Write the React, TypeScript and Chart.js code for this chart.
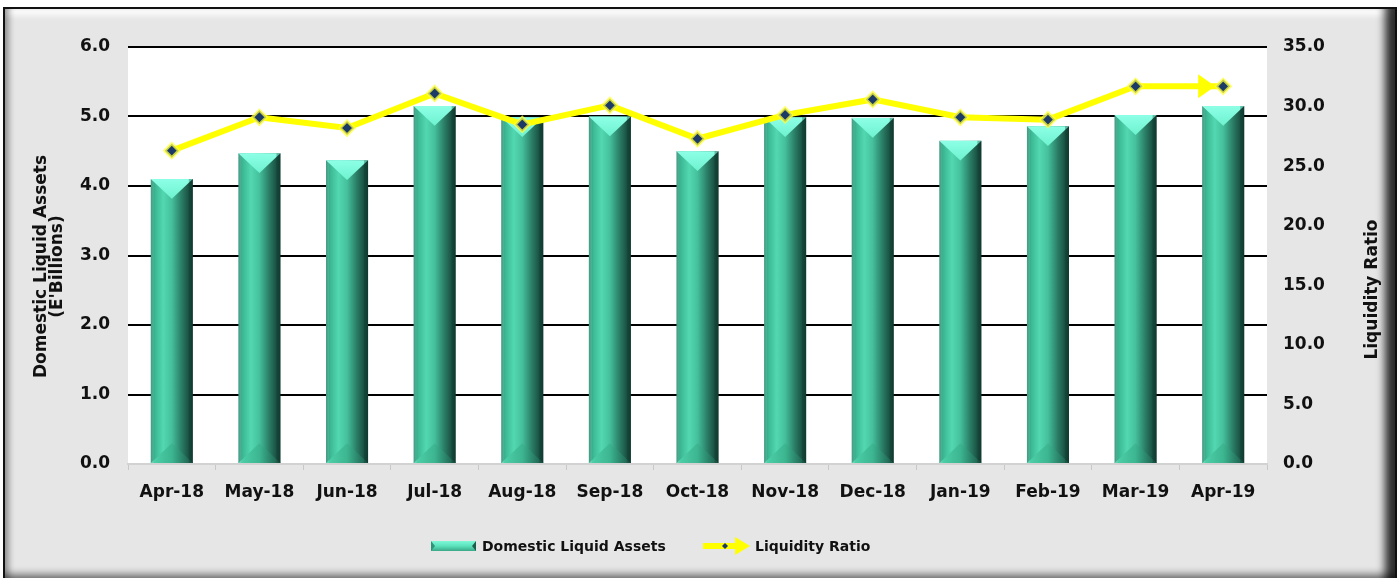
import React, { useEffect, useRef } from "react";
import { Chart, registerables } from "chart.js";

Chart.register(...registerables);

const categories = ["Apr-18", "May-18", "Jun-18", "Jul-18", "Aug-18", "Sep-18", "Oct-18", "Nov-18", "Dec-18", "Jan-19", "Feb-19", "Mar-19", "Apr-19"];
const liquidAssets = [4.1, 4.47, 4.37, 5.15, 4.99, 5.0, 4.5, 4.99, 4.98, 4.65, 4.86, 5.02, 5.15];
const liquidityRatio = [26.3, 29.1, 28.2, 31.1, 28.5, 30.1, 27.3, 29.3, 30.6, 29.1, 28.9, 31.7, 31.7];
const assetTicks = [0, 1, 2, 3, 4, 5, 6];
const ratioTicks = [0, 5, 10, 15, 20, 25, 30, 35];
const leftTitle = ["Domestic Liquid Assets", "(E'Billions)"];
const rightTitle = "Liquidity Ratio";
const barLabel = "Domestic Liquid Assets";
const lineLabel = "Liquidity Ratio";

const FONT = "DejaVu Sans";
const tickFont = { family: FONT, size: 17, weight: "bold" as const };

function bodyGradient(ctx: CanvasRenderingContext2D, l: number, r: number) {
  const g = ctx.createLinearGradient(l, 0, r, 0);
  g.addColorStop(0, "#2a8c71");
  g.addColorStop(0.1, "#3bb893");
  g.addColorStop(0.3, "#52d8b1");
  g.addColorStop(0.5, "#45c09c");
  g.addColorStop(0.72, "#2b8068");
  g.addColorStop(1, "#11382e");
  return g;
}

const whiteArea = {
  id: "whiteArea",
  beforeDraw(chart: any) {
    const { ctx, chartArea: a } = chart;
    ctx.save();
    ctx.fillStyle = "#ffffff";
    ctx.fillRect(a.left, a.top, a.right - a.left, a.bottom - a.top);
    ctx.restore();
  },
};

const bevelBars = {
  id: "bevelBars",
  afterDatasetDraw(chart: any, args: any) {
    const ctx: CanvasRenderingContext2D = chart.ctx;
    if (args.index === 0) {
      ctx.save();
      for (const el of args.meta.data) {
        const { x, y, base, width } = el.getProps(["x", "y", "base", "width"], true);
        const l = x - width / 2, r = x + width / 2, t = y, b = base;
        ctx.fillStyle = bodyGradient(ctx, l, r);
        ctx.fillRect(l, t, width, b - t);
        const d = width * 0.47;
        // top cap
        ctx.beginPath();
        ctx.moveTo(l, t);
        ctx.lineTo(r, t);
        ctx.lineTo(x, t + d);
        ctx.closePath();
        const g2 = ctx.createLinearGradient(0, t, 0, t + d);
        g2.addColorStop(0, "#8dffe6");
        g2.addColorStop(1, "#6ef2cf");
        ctx.fillStyle = g2;
        ctx.fill();
        // bottom cap
        ctx.beginPath();
        ctx.moveTo(l, b);
        ctx.lineTo(r, b);
        ctx.lineTo(x, b - d);
        ctx.closePath();
        const g3 = ctx.createLinearGradient(l, 0, r, 0);
        g3.addColorStop(0, "#4fd3ac");
        g3.addColorStop(0.5, "#3cb690");
        g3.addColorStop(1, "#1a5545");
        ctx.fillStyle = g3;
        ctx.fill();
        // side strips
        ctx.fillStyle = "rgba(15,60,48,0.35)";
        ctx.fillRect(r - 4, t, 4, b - t);
        ctx.fillStyle = "rgba(255,255,255,0.12)";
        ctx.fillRect(l, t, 3, b - t);
      }
      ctx.restore();
    } else if (args.index === 1) {
      const pts = args.meta.data;
      const n = pts.length;
      if (n < 2) return;
      const p1 = pts[n - 2], p2 = pts[n - 1];
      const dx = p2.x - p1.x, dy = p2.y - p1.y;
      const len = Math.hypot(dx, dy);
      const ux = dx / len, uy = dy / len;
      const tipX = p2.x - ux * 8, tipY = p2.y - uy * 8;
      const bx = tipX - ux * 17, by = tipY - uy * 17;
      const hw = 12;
      ctx.save();
      ctx.fillStyle = "#ffff00";
      ctx.beginPath();
      ctx.moveTo(tipX, tipY);
      ctx.lineTo(bx - uy * hw, by + ux * hw);
      ctx.lineTo(bx + uy * hw, by - ux * hw);
      ctx.closePath();
      ctx.fill();
      ctx.restore();
    }
  },
};

const extras = {
  id: "extras",
  afterDraw(chart: any) {
    const { ctx, chartArea: a } = chart;
    ctx.save();
    ctx.fillStyle = "#111";
    ctx.font = `bold 17px "${FONT}"`;
    ctx.textAlign = "center";
    ctx.textBaseline = "middle";
    const cy = (a.top + a.bottom) / 2;
    // left title
    ctx.save();
    ctx.translate(42, cy + 11);
    ctx.rotate(-Math.PI / 2);
    ctx.fillText(leftTitle[0], 0, 0);
    ctx.restore();
    ctx.save();
    ctx.translate(58, cy + 11);
    ctx.rotate(-Math.PI / 2);
    ctx.fillText(leftTitle[1], 0, 0);
    ctx.restore();
    // right title
    ctx.save();
    ctx.translate(1373, cy + 34);
    ctx.rotate(-Math.PI / 2);
    ctx.fillText(rightTitle, 0, 0);
    ctx.restore();

    // legend
    const ly = 546;
    const il = 431, ir = 476;
    const lg = ctx.createLinearGradient(0, ly - 5, 0, ly + 5);
    lg.addColorStop(0, "#7ff8d8");
    lg.addColorStop(0.5, "#5ae2bb");
    lg.addColorStop(1, "#3aa889");
    ctx.fillStyle = lg;
    ctx.fillRect(il, ly - 5, ir - il, 10);
    ctx.fillStyle = "#1d5c4b";
    ctx.beginPath();
    ctx.moveTo(ir, ly - 5);
    ctx.lineTo(ir, ly + 5);
    ctx.lineTo(ir - 4, ly);
    ctx.closePath();
    ctx.fill();
    ctx.fillStyle = "#2c9478";
    ctx.beginPath();
    ctx.moveTo(il, ly - 5);
    ctx.lineTo(il, ly + 5);
    ctx.lineTo(il + 4, ly);
    ctx.closePath();
    ctx.fill();
    ctx.font = `bold 14px "${FONT}"`;
    ctx.textAlign = "left";
    ctx.fillStyle = "#111";
    ctx.fillText(barLabel, 482, ly + 1);
    ctx.strokeStyle = "#ffff00";
    ctx.lineWidth = 6;
    ctx.beginPath();
    ctx.moveTo(703, ly);
    ctx.lineTo(737, ly);
    ctx.stroke();
    ctx.fillStyle = "#ffff00";
    ctx.beginPath();
    ctx.moveTo(750, ly);
    ctx.lineTo(735, ly - 9);
    ctx.lineTo(735, ly + 9);
    ctx.closePath();
    ctx.fill();
    ctx.fillStyle = "#1b3a66";
    ctx.beginPath();
    ctx.moveTo(725, ly - 3);
    ctx.lineTo(728, ly);
    ctx.lineTo(725, ly + 3);
    ctx.lineTo(722, ly);
    ctx.closePath();
    ctx.fill();
    ctx.fillStyle = "#111";
    ctx.fillText(lineLabel, 755, ly + 1);
    ctx.restore();
  },
};

export default function App() {
  const ref = useRef<HTMLCanvasElement | null>(null);
  useEffect(() => {
    if (!ref.current) return;
    const chart = new Chart(ref.current, {
      type: "bar",
      data: {
        labels: categories,
        datasets: [
          {
            type: "bar",
            label: barLabel,
            data: liquidAssets,
            yAxisID: "y",
            backgroundColor: "rgba(0,0,0,0)",
            borderWidth: 0,
            barPercentage: 0.48,
            categoryPercentage: 1,
            order: 1,
          },
          {
            type: "line",
            label: lineLabel,
            data: liquidityRatio,
            yAxisID: "y1",
            borderColor: "#ffff00",
            borderWidth: 6,
            pointStyle: "rectRot",
            pointRadius: 7,
            pointBackgroundColor: "#1b3a66",
            pointBorderColor: "rgba(255,255,60,0.75)",
            pointBorderWidth: 3,
            tension: 0,
            order: 0,
          } as any,
        ],
      },
      options: {
        animation: false,
        responsive: false,
        maintainAspectRatio: false,
        layout: { padding: { top: 47, left: 0, right: 0, bottom: 0 } },
        plugins: { legend: { display: false }, tooltip: { enabled: false } },
        scales: {
          x: {
            offset: true,
            grid: { display: true, drawOnChartArea: false, drawTicks: true, tickLength: 6, color: "#c8c8c8", offset: true },
            border: { display: true, color: "#d2d2d2", width: 2 },
            ticks: { font: tickFont, color: "#111", padding: 12, maxRotation: 0, autoSkip: false },
            afterFit: (s: any) => { s.height = 578 - 464; },
          },
          y: {
            position: "left",
            min: assetTicks[0],
            max: assetTicks[assetTicks.length - 1],
            afterBuildTicks: (s: any) => { s.ticks = assetTicks.map((v) => ({ value: v })); },
            ticks: { font: tickFont, color: "#111", padding: 18, callback: (v: any) => Number(v).toFixed(1) },
            grid: { color: (c: any) => (c.tick && c.tick.value === 0 ? "rgba(0,0,0,0)" : "#000"), lineWidth: 2, drawTicks: false },
            border: { display: false },
            afterFit: (s: any) => { s.width = 128; },
          },
          y1: {
            position: "right",
            min: ratioTicks[0],
            max: ratioTicks[ratioTicks.length - 1],
            afterBuildTicks: (s: any) => { s.ticks = ratioTicks.map((v) => ({ value: v })); },
            ticks: { font: tickFont, color: "#111", padding: 16, callback: (v: any) => Number(v).toFixed(1) },
            grid: { drawOnChartArea: false, drawTicks: false },
            border: { display: false },
            afterFit: (s: any) => { s.width = 133; },
          },
        },
      } as any,
      plugins: [whiteArea, bevelBars, extras],
    });
    return () => chart.destroy();
  }, []);

  return (
    <div style={{ position: "absolute", left: 0, top: 0, width: 1400, height: 578, overflow: "hidden", background: "#ffffff" }}>
      <div
        style={{
          position: "absolute",
          left: 3,
          top: 7,
          width: 1390,
          height: 574,
          border: "2px solid #111",
          background: "#e6e6e6",
          boxShadow:
            "inset -16px 0 8px -6px rgba(0,0,0,0.8), inset 0 -14px 8px -6px rgba(0,0,0,0.6), inset 10px 0 6px -6px rgba(0,0,0,0.35), inset 0 12px 6px -6px rgba(255,255,255,0.95)",
        }}
      />
      <canvas ref={ref} width={1400} height={578} style={{ position: "absolute", left: 0, top: 0, display: "block" }} />
    </div>
  );
}
